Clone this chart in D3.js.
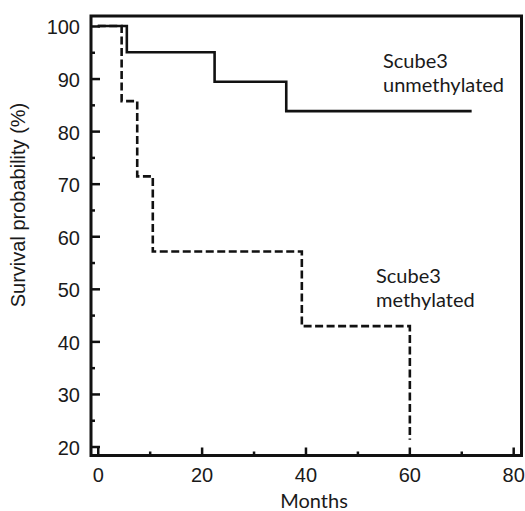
<!DOCTYPE html>
<html>
<head>
<meta charset="utf-8">
<script src="https://cdn.jsdelivr.net/npm/d3@7"></script>
<style>
  body { margin: 0; background: #fff; }
  svg { display: block; }
</style>
</head>
<body>
<svg id="chart" width="525" height="511"></svg>
<script>
// Kaplan-Meier curves
const unmethMonths = [0, 5.6, 22.5, 36.3, 72];
const unmethSurvival = [100, 95.0, 89.4, 83.8, 83.8];
const methMonths = [0, 4.6, 7.6, 10.6, 39.3, 60.1];
const methSurvival = [100, 85.7, 71.4, 57.1, 42.9, 21.3];

const xTicks = [0, 20, 40, 60, 80];
const xMinor = [10, 30, 50, 70];
const yTicks = [20, 30, 40, 50, 60, 70, 80, 90, 100];
const yMinor = [25, 35, 45, 55, 65, 75, 85, 95];

const svg = d3.select('#chart');
const margin = ({top: 16, right: 3.5, bottom: 55.5, left: 91});
const width = 525, height = 511;

const x = d3.scaleLinear()
    .domain([-1.3, 81.6])
    .range([margin.left, width - margin.right]);

const y = d3.scaleLinear()
    .domain([18.29, 101.9])
    .range([height - margin.bottom, margin.top]);

const tickFont = '20px "Liberation Sans", Arial, sans-serif';
const labelFont = '20px Lato, "Open Sans", sans-serif';

//x axis, ticks pointing inward
const xAxis = svg.append('g')
    .attr('transform', `translate(0,${height - margin.bottom})`)
    .call(d3.axisBottom(x).tickValues(xTicks).tickSize(-8).tickPadding(12));
svg.append('g')
    .attr('transform', `translate(0,${height - margin.bottom})`)
    .call(d3.axisBottom(x).tickValues(xMinor).tickSize(-4).tickFormat(''));

//y axis
const yAxis = svg.append('g')
    .attr('transform', `translate(${margin.left},0)`)
    .call(d3.axisLeft(y).tickValues(yTicks).tickSize(-9).tickPadding(11));
svg.append('g')
    .attr('transform', `translate(${margin.left},0)`)
    .call(d3.axisLeft(y).tickValues(yMinor).tickSize(-4).tickFormat(''));

svg.selectAll('.domain').remove();
svg.selectAll('.tick line').attr('stroke', '#111').attr('stroke-width', 2.5);
svg.selectAll('.tick text')
    .attr('fill', '#1a1a1a')
    .style('font', tickFont);
yAxis.selectAll('.tick text').attr('dy', '0.4em');

//frame
svg.append('rect')
    .attr('x', margin.left)
    .attr('y', margin.top)
    .attr('width', width - margin.right - margin.left)
    .attr('height', height - margin.bottom - margin.top)
    .attr('fill', 'none')
    .attr('stroke', '#111')
    .attr('stroke-width', 3);

//curves
const line = d3.line()
    .x(d => x(d[0]))
    .y(d => y(d[1]))
    .curve(d3.curveStepAfter);

svg.append('path')
    .datum(unmethMonths.map((m, i) => [m, unmethSurvival[i]]))
    .attr('d', line)
    .attr('fill', 'none')
    .attr('stroke', '#111')
    .attr('stroke-width', 2.6);

svg.append('path')
    .datum(methMonths.map((m, i) => [m, methSurvival[i]]))
    .attr('d', line)
    .attr('fill', 'none')
    .attr('stroke', '#111')
    .attr('stroke-width', 2.6)
    .attr('stroke-dasharray', '8,3.5');

//labels
svg.append('text')
    .attr('x', 314)
    .attr('y', 508)
    .attr('text-anchor', 'middle')
    .attr('fill', '#1a1a1a')
    .style('font', labelFont)
    .text('Months');

svg.append('text')
    .attr('transform', 'translate(25,205) rotate(-90)')
    .attr('text-anchor', 'middle')
    .attr('fill', '#1a1a1a')
    .style('font', tickFont)
    .text('Survival probability (%)');

const annotations = [
    {lines: ['Scube3', 'unmethylated'], x: 383, y: 68},
    {lines: ['Scube3', 'methylated'], x: 376, y: 283}
];
annotations.forEach(a => {
    const t = svg.append('text')
        .attr('x', a.x)
        .attr('y', a.y)
        .attr('fill', '#1a1a1a')
        .style('font', labelFont);
    a.lines.forEach((s, i) => {
        t.append('tspan')
            .attr('x', a.x)
            .attr('dy', i === 0 ? 0 : 24)
            .text(s);
    });
});
</script>
</body>
</html>
